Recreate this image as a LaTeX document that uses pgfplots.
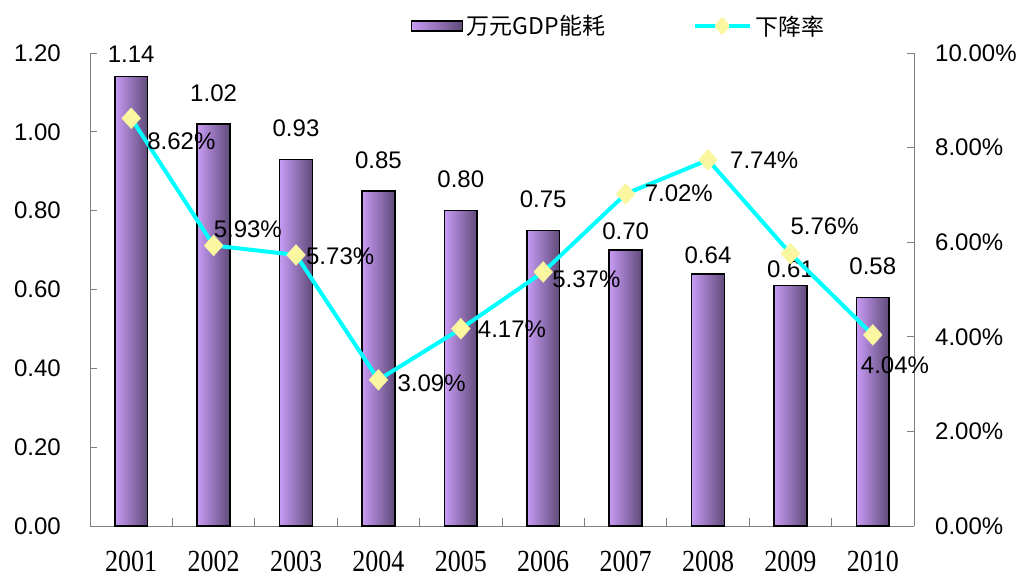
\documentclass[border=0pt]{standalone}
\usepackage{graphicx}
\usepackage{pgfplots}
\pgfplotsset{compat=1.18}
\usepackage{pgfplotstable}
\usepackage{fontspec}
\setmainfont{Liberation Sans}
\newfontfamily\cjk{Noto Sans CJK SC}
\newfontfamily\serifd{Liberation Serif}
\definecolor{barlight}{RGB}{200,155,245}
\definecolor{bardark}{RGB}{94,74,120}
\definecolor{markyellow}{RGB}{250,247,160}
\definecolor{linecyan}{RGB}{0,255,255}
\definecolor{axisgray}{RGB}{128,128,128}
\newcommand\yr[1]{\scalebox{1}[1.18]{#1}}

\pgfplotstableread{
x y gap
0 1.14 22
1 1.02 31
2 0.93 31
3 0.85 31
4 0.80 31
5 0.75 31
6 0.70 19
7 0.64 18
8 0.61 16
9 0.58 31
}\bardata

\pgfplotstableread{
x y dx dy
0 8.62 16 -23
1 5.93 0 16
2 5.73 10 -1
3 3.09 19 -3
4 4.17 17 0
5 5.37 9 -7
6 7.02 19 1
7 7.74 22 0
8 5.76 0 27
9 4.04 -12 -30
}\ratedata

\pgfplotsset{
  barleg/.style={legend image code/.code={\draw[left color=barlight,right color=bardark,draw=black,line width=1.2pt] (0pt,-5pt) rectangle (51pt,5pt);}},
  lineleg/.style={legend image code/.code={\draw[linecyan,line width=4pt] (0pt,0pt)--(55pt,0pt);
     \fill[markyellow] (27.5pt,6.5pt)--(33pt,0pt)--(27.5pt,-6.5pt)--(22pt,0pt)--cycle;}},
  common/.style={at={(90pt,51pt)}, anchor=south west, scale only axis,
     width=824pt, height=473pt, xmin=-0.5, xmax=9.5, clip=false,
     axis line style={-, draw=axisgray, line width=0.8pt},
     tick align=inside, major tick length=7pt, minor tick length=8pt,
     tick style={draw=axisgray, line width=0.8pt}},
}

\begin{document}
\begin{tikzpicture}
\useasboundingbox (0,0) rectangle (1021pt,577pt);
\begin{axis}[common,
  ymin=0, ymax=1.2,
  axis x line*=bottom, axis y line*=left,
  xtick={0,...,9},
  xticklabels={\yr{2001},\yr{2002},\yr{2003},\yr{2004},\yr{2005},\yr{2006},\yr{2007},\yr{2008},\yr{2009},\yr{2010}},
  major x tick style={draw=none},
  minor xtick={0.5,1.5,2.5,3.5,4.5,5.5,6.5,7.5,8.5},
  ytick={0,0.2,0.4,0.6,0.8,1,1.2},
  xticklabel style={font=\serifd\fontsize{26}{30}\selectfont, anchor=north, inner sep=0pt, yshift=-25pt},
  yticklabel style={font=\fontsize{24}{28}\selectfont, anchor=east, inner sep=0pt, xshift=-29pt,
     /pgf/number format/.cd, fixed, fixed zerofill, precision=2, assume math mode=true},
]
\pgfplotsinvokeforeach{0,...,9}{
\addplot[ybar, bar width=0.4, draw=black, line width=1.6pt, left color=barlight, right color=bardark,
  x filter/.expression={abs(x-#1)<0.1 ? x : nan},
  nodes near coords, point meta=y,
  visualization depends on={\thisrow{gap} \as \gap},
  nodes near coords style={font=\fontsize{24}{28}\selectfont, text=black, anchor=center, inner sep=0pt,
     yshift=\gap pt, /pgf/number format/.cd, fixed, fixed zerofill, precision=2, assume math mode=true}]
  table[x=x, y=y]{\bardata};
}
\end{axis}
\begin{axis}[common,
  ymin=0, ymax=10,
  axis x line=none, axis y line*=right,
  ytick={0,2,4,6,8,10},
  yticklabel={\pgfmathprintnumber[fixed,fixed zerofill,precision=2,assume math mode=true]{\tick}\%},
  yticklabel style={font=\fontsize{24}{28}\selectfont, anchor=west, inner sep=0pt, xshift=21pt},
  legend columns=2,
  legend style={at={(0.3896,1.057)}, anchor=west, draw=none, fill=none, inner sep=0pt,
     font=\cjk\fontsize{23}{27}\selectfont, nodes={inner sep=3.5pt},
     /tikz/every even column/.append style={column sep=84pt}},
  legend cell align=left,
]
\addlegendimage{barleg}
\addlegendentry{万元GDP能耗}
\addplot[color=linecyan, line width=4pt, line join=round, mark=diamond*, mark size=10.5pt,
  mark options={solid, xscale=1.2, fill=markyellow, draw=markyellow, line width=0.3pt},
  lineleg,
  point meta=y,
  visualization depends on={\thisrow{dx} \as \dx},
  visualization depends on={\thisrow{dy} \as \dy},
  nodes near coords={\pgfmathprintnumber[fixed,fixed zerofill,precision=2,assume math mode=true]{\pgfplotspointmeta}\%},
  nodes near coords style={font=\fontsize{24}{28}\selectfont, text=black, anchor=west, inner sep=0pt,
     xshift=\dx pt, yshift=\dy pt}]
  table[x=x, y=y]{\ratedata};
\addlegendentry{下降率}
\end{axis}
\end{tikzpicture}
\end{document}
